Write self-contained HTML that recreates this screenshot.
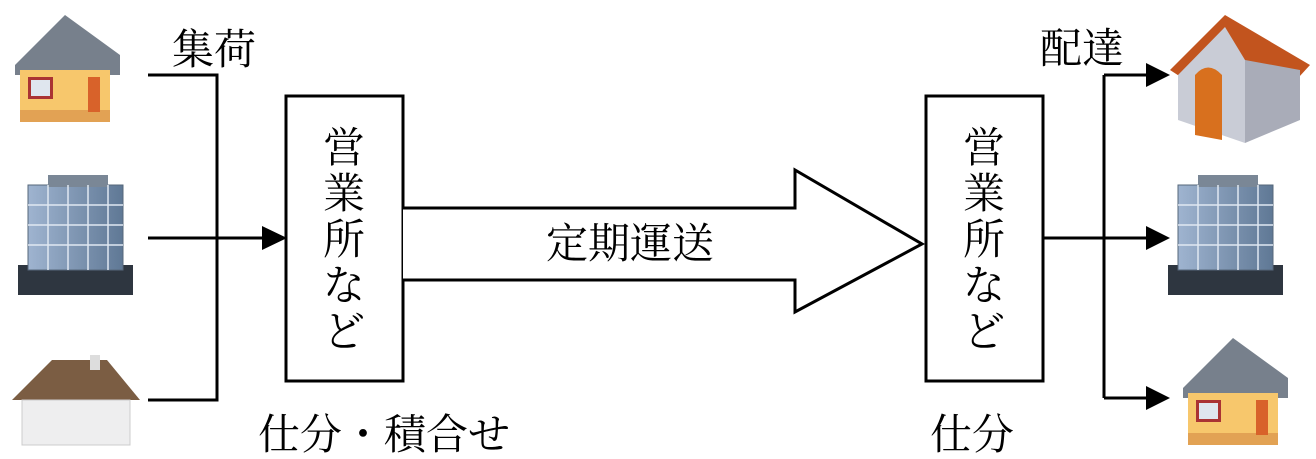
<!DOCTYPE html>
<html><head><meta charset="utf-8"><style>
body{margin:0;background:#fff;width:1316px;height:458px;overflow:hidden;position:relative;font-family:"Liberation Serif","Noto Serif CJK SC","Noto Sans CJK JP",serif}
.t{position:absolute;font-size:42px;line-height:1;color:#000;white-space:nowrap}
.v{position:absolute;font-size:42px;line-height:46px;width:46px;text-align:center;color:#000}
</style></head><body>
<svg width="1316" height="458" style="position:absolute;left:0;top:0">
<defs>
<linearGradient id="g" x1="0" x2="1"><stop offset="0" stop-color="#9fb4d0"/><stop offset="1" stop-color="#5f7895"/></linearGradient>
<g id="bld">
<rect x="0" y="90" width="115" height="30" fill="#2e3640"/>
<rect x="10" y="10" width="95" height="85" fill="url(#g)" stroke="#56677a"/>
<rect x="30" y="0" width="60" height="12" fill="#7a8796"/>
<path d="M10 30H105M10 50H105M10 70H105M30 10V95M50 10V95M70 10V95M90 10V95" stroke="#e0e8f2" stroke-width="1.5"/>
</g>
<g id="h1">
<polygon points="5,50 55,0 110,40 110,60 5,60" fill="#77808c"/>
<rect x="10" y="55" width="90" height="50" fill="#f7c76c"/>
<rect x="10" y="95" width="90" height="12" fill="#e2a254"/>
<rect x="18" y="62" width="25" height="22" fill="#a33" /><rect x="21" y="65" width="19" height="16" fill="#dfe6ee"/>
<rect x="78" y="62" width="12" height="35" fill="#d8622a"/>
</g>
</defs>
<g fill="none" stroke="#000" stroke-width="3">
<rect x="286" y="96" width="117" height="285"/>
<rect x="926" y="96" width="117" height="285"/>
<path d="M148 75H217V400H148M148 238H265"/>
<path d="M1043 238H1150M1104 75V398M1104 75H1150M1104 398H1150"/>
<path d="M403 208H795V170L922 244L795 312V280H403" fill="#fff"/>
</g>
<g fill="#000">
<polygon points="262,226 287,238 262,250"/>
<polygon points="1146,63 1170,75 1146,87"/>
<polygon points="1146,226 1170,238 1146,250"/>
<polygon points="1146,386 1170,398 1146,410"/>
</g>
<use href="#h1" x="10" y="15"/>
<use href="#bld" x="18" y="175"/>
<g transform="translate(12,355)">
<polygon points="0,45 40,5 95,5 128,45" fill="#7b5d43"/>
<rect x="78" y="0" width="10" height="15" fill="#ddd"/>
<rect x="10" y="45" width="108" height="45" fill="#eeeeef" stroke="#ccc"/>
</g>
<g transform="translate(1170,15)">
<polygon points="0,55 55,0 140,50 85,110" fill="#c2541e"/>
<polygon points="8,60 55,12 75,45 75,128 8,105" fill="#c9ccd6"/>
<polygon points="75,45 130,55 130,105 75,128" fill="#a9acb8"/>
<path d="M25 120V60Q38 45 52 60V125Z" fill="#d8701e"/>
</g>
<use href="#bld" x="1168" y="175"/>
<use href="#h1" x="1178" y="338"/>
</svg>
<div class="t" style="left:172px;top:30px">集荷</div>
<div class="t" style="left:1040px;top:29px">配達</div>
<div class="t" style="left:258px;top:415px">仕分・積合せ</div>
<div class="t" style="left:930px;top:415px">仕分</div>
<div class="t" style="left:546px;top:224px;font-size:42px">定期運送</div>
<div class="v" style="left:321px;top:126px">営<br>業<br>所<br>な<br>ど</div>
<div class="v" style="left:961px;top:126px">営<br>業<br>所<br>な<br>ど</div>
</body></html>
